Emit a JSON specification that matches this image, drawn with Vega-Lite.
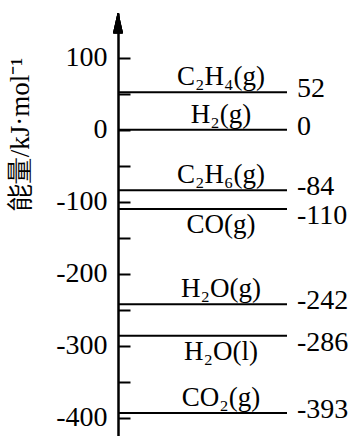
{
  "$schema": "https://vega.github.io/schema/vega-lite/v6.json",
  "autosize": "none",
  "width": 236,
  "height": 423,
  "padding": {"left": 118, "top": 13, "right": 0, "bottom": 0},
  "background": "white",
  "config": {"view": {"stroke": null}},
  "data": {"values": [
    {"species": "C₂H₄(g)", "energy": 52, "label": "52", "side": "above"},
    {"species": "H₂(g)", "energy": 0, "label": "0", "side": "above"},
    {"species": "C₂H₆(g)", "energy": -84, "label": "-84", "side": "above"},
    {"species": "CO(g)", "energy": -110, "label": "-110", "side": "below"},
    {"species": "H₂O(g)", "energy": -242, "label": "-242", "side": "above"},
    {"species": "H₂O(l)", "energy": -286, "label": "-286", "side": "below"},
    {"species": "CO₂(g)", "energy": -393, "label": "-393", "side": "above"}
  ]},
  "layer": [
    {
      "mark": {"type": "rule", "color": "black", "strokeWidth": 2},
      "encoding": {
        "x": {"datum": 0, "type": "quantitative", "scale": {"domain": [0, 236], "nice": false, "zero": false}, "axis": null},
        "x2": {"datum": 169},
        "y": {"field": "energy", "type": "quantitative",
          "scale": {"domain": [-425, 162], "nice": false, "zero": false},
          "axis": {
            "values": [100, 50, 0, -50, -100, -150, -200, -250, -300, -350, -400],
            "labelExpr": "datum.value % 100 === 0 ? '' + datum.value : ''",
            "grid": false,
            "domainColor": "black", "domainWidth": 2.5,
            "tickColor": "black", "tickWidth": 2, "tickSize": -12,
            "labelFont": "Liberation Serif", "labelFontSize": 28, "labelColor": "black",
            "labelPadding": 23, "labelBaseline": "middle",
            "title": "能量/kJ·mol⁻¹",
            "titleFont": "Liberation Serif", "titleFontSize": 27, "titleFontWeight": "normal", "titleColor": "black",
            "titleAngle": -90, "titleX": -98, "titleY": 121, "titleAlign": "center", "titleBaseline": "middle"
          }
        }
      }
    },
    {
      "transform": [{"filter": "datum.side === 'above'"}],
      "mark": {"type": "text", "align": "left", "baseline": "middle", "dy": -3, "font": "Liberation Serif", "fontSize": 28, "color": "black"},
      "encoding": {
        "x": {"datum": 179, "type": "quantitative"},
        "y": {"field": "energy", "type": "quantitative"},
        "text": {"field": "label", "type": "nominal"}
      }
    },
    {
      "transform": [{"filter": "datum.side === 'below'"}],
      "mark": {"type": "text", "align": "left", "baseline": "middle", "dy": 7, "font": "Liberation Serif", "fontSize": 28, "color": "black"},
      "encoding": {
        "x": {"datum": 179, "type": "quantitative"},
        "y": {"field": "energy", "type": "quantitative"},
        "text": {"field": "label", "type": "nominal"}
      }
    },
    {
      "transform": [{"filter": "datum.side === 'above'"}],
      "mark": {"type": "text", "align": "center", "baseline": "bottom", "dy": -1, "font": "Liberation Serif", "fontSize": 27, "color": "black"},
      "encoding": {
        "x": {"datum": 103, "type": "quantitative"},
        "y": {"field": "energy", "type": "quantitative"},
        "text": {"field": "species", "type": "nominal"}
      }
    },
    {
      "transform": [{"filter": "datum.side === 'below'"}],
      "mark": {"type": "text", "align": "center", "baseline": "top", "dy": 3, "font": "Liberation Serif", "fontSize": 27, "color": "black"},
      "encoding": {
        "x": {"datum": 103, "type": "quantitative"},
        "y": {"field": "energy", "type": "quantitative"},
        "text": {"field": "species", "type": "nominal"}
      }
    },
    {
      "mark": {"type": "point", "shape": "M 0 -1 L 0.45 1 L -0.45 1 Z", "filled": true, "fill": "black", "stroke": "black", "strokeWidth": 0.5, "size": 400, "opacity": 1},
      "encoding": {
        "x": {"datum": 0, "type": "quantitative"},
        "y": {"datum": 148, "type": "quantitative"}
      }
    }
  ]
}
